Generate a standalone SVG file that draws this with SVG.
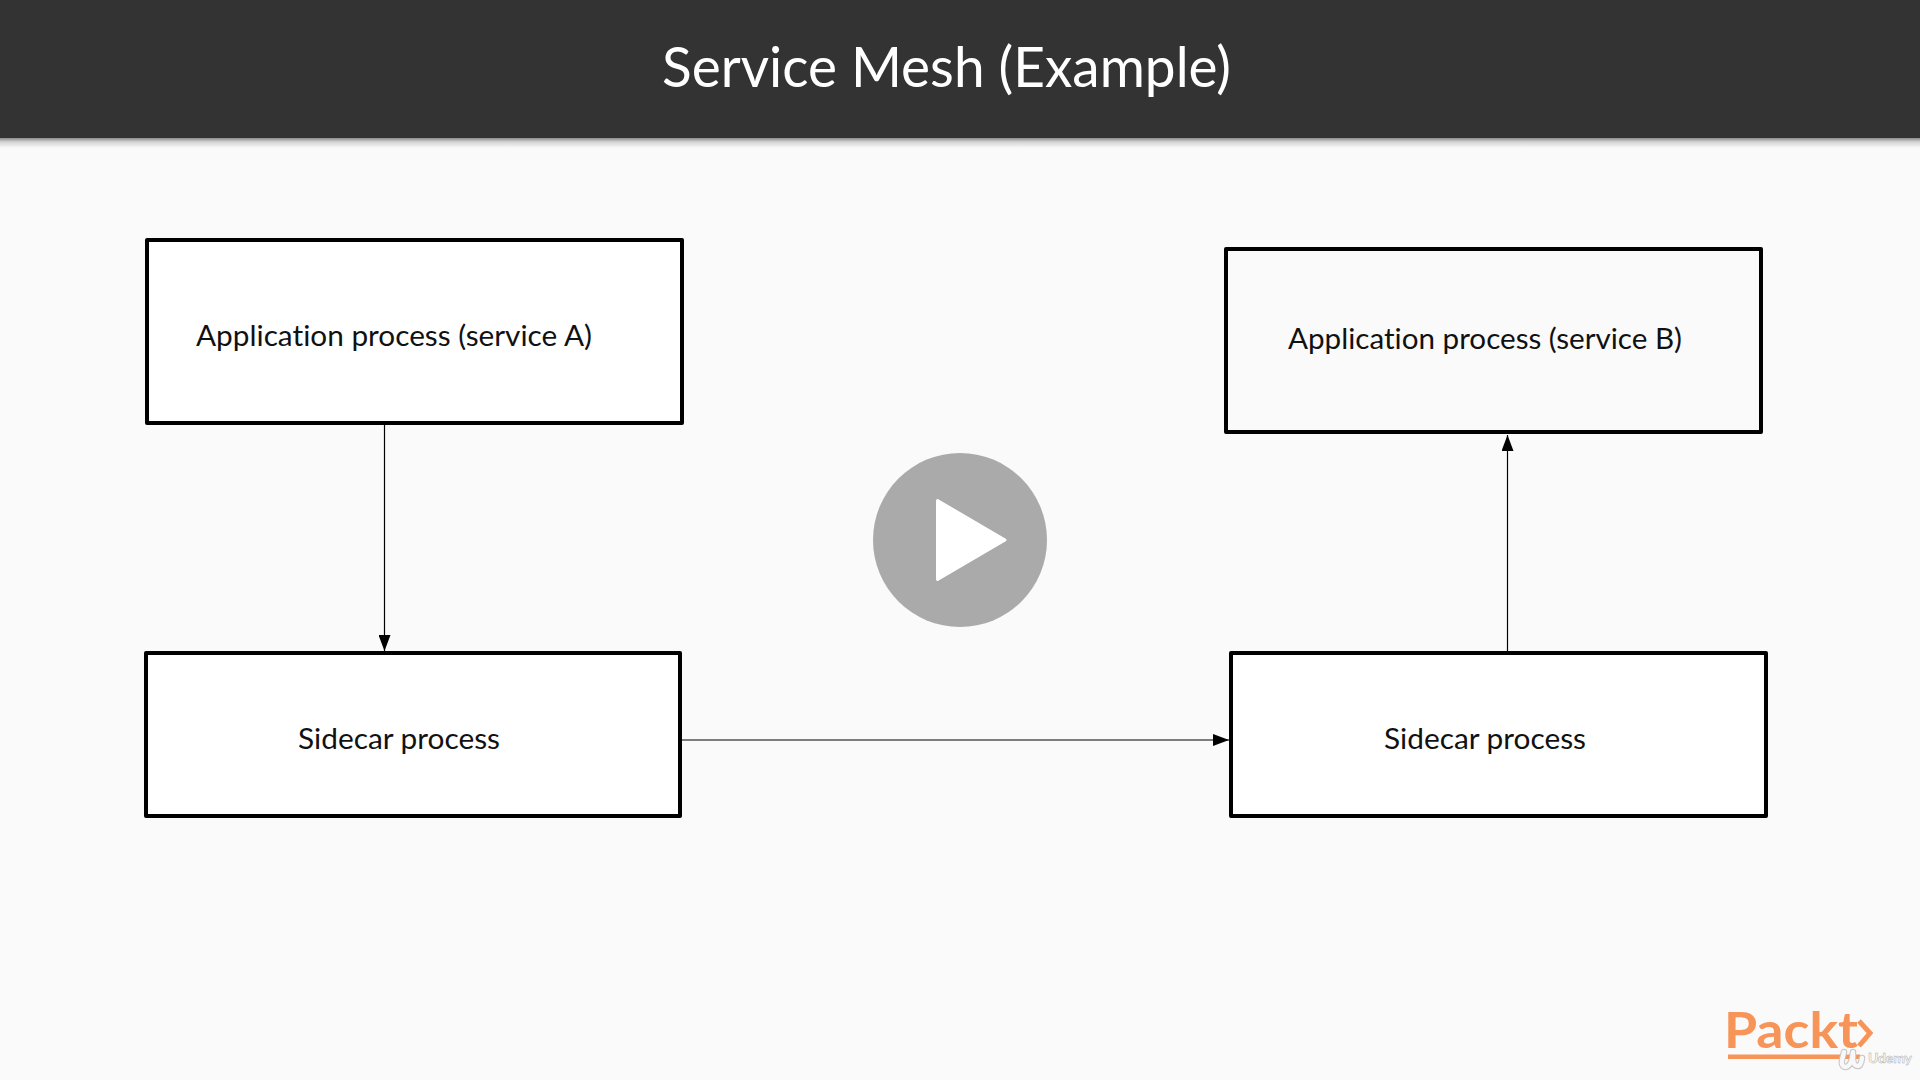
<svg xmlns="http://www.w3.org/2000/svg" width="1920" height="1080" viewBox="0 0 1920 1080">
<style>
.box{stroke:#000;stroke-width:4;stroke-linejoin:round}
.lbl{font-family:"Lato","Open Sans","Liberation Sans",sans-serif;font-size:29px;fill:#111;font-variant-ligatures:none}
.conn{stroke:#000;stroke-width:1.2;fill:none}
.um{fill:none;stroke-linecap:round;stroke-linejoin:round}
</style>
<defs>
<linearGradient id="shadow" x1="0" y1="0" x2="0" y2="1"><stop offset="0" stop-color="#8a8a8a"/><stop offset="0.4" stop-color="#d4d4d4"/><stop offset="1" stop-color="#fafafa"/></linearGradient>
<marker id="arrow" markerUnits="userSpaceOnUse" markerWidth="16" markerHeight="12" refX="16" refY="6" orient="auto"><path d="M0 0L16 6L0 12Z" fill="#000"/></marker>
</defs>
<rect width="1920" height="1080" fill="#fafafa"/>
<g id="header">
<rect y="138" width="1920" height="10" fill="url(#shadow)"/>
<rect width="1920" height="138" fill="#333"/>
<text x="662" y="87" font-family="Lato,'Open Sans',sans-serif" font-size="57" fill="#fff" textLength="569" lengthAdjust="spacingAndGlyphs" style="font-variant-ligatures:none">Service Mesh (Example)</text>
</g>
<g id="connectors">
<path class="conn" d="M384.5 425V651" marker-end="url(#arrow)"/>
<path class="conn" d="M682 740H1229" marker-end="url(#arrow)"/>
<path class="conn" d="M1507.5 651V435" marker-end="url(#arrow)"/>
</g>
<g id="app-a"><rect class="box" x="147" y="240" width="535" height="183" fill="#fff"/><text class="lbl" x="196" y="346" textLength="396" lengthAdjust="spacingAndGlyphs">Application process (service A)</text></g>
<g id="sidecar-a"><rect class="box" x="146" y="653" width="534" height="163" fill="#fff"/><text class="lbl" x="298" y="749" textLength="202" lengthAdjust="spacingAndGlyphs">Sidecar process</text></g>
<g id="app-b"><rect class="box" x="1226" y="249" width="535" height="183" fill="#fafafa"/><text class="lbl" x="1288" y="349" textLength="394" lengthAdjust="spacingAndGlyphs">Application process (service B)</text></g>
<g id="sidecar-b"><rect class="box" x="1231" y="653" width="535" height="163" fill="#fff"/><text class="lbl" x="1384" y="749" textLength="202" lengthAdjust="spacingAndGlyphs">Sidecar process</text></g>
<g id="play"><circle cx="960" cy="540" r="87" fill="#aaa"/><path d="M937.5 500.5L1005 540L937.5 579.500Z" fill="#fff" stroke="#fff" stroke-width="3" stroke-linejoin="round"/></g>
<g id="logo">
<text x="1724" y="1048" font-family="Lato,sans-serif" font-weight="700" font-size="49" fill="#f79458" textLength="134" lengthAdjust="spacingAndGlyphs" style="font-variant-ligatures:none">Packt</text>
<path d="M1859 1021L1870 1033L1859 1046" fill="none" stroke="#f79458" stroke-width="5"/>
<rect x="1728" y="1054.500" width="132" height="4.500" fill="#f79458"/>
<path class="um" d="M1844 1052L1842 1060Q1841 1067 1846 1067Q1850 1066 1852 1059L1853 1052M1853 1054Q1852 1066 1858 1066Q1861 1066 1862 1058" stroke="#c4c4c4" stroke-width="6.500"/>
<path class="um" d="M1844 1052L1842 1060Q1841 1067 1846 1067Q1850 1066 1852 1059L1853 1052M1853 1054Q1852 1066 1858 1066Q1861 1066 1862 1058" stroke="#f8f8f8" stroke-width="4.500"/>
<text x="1868" y="1063" font-family="Lato,sans-serif" font-weight="700" font-size="14" fill="#fff" stroke="#aaa" stroke-width="0.5" textLength="44">Udemy</text>
</g>
</svg>
